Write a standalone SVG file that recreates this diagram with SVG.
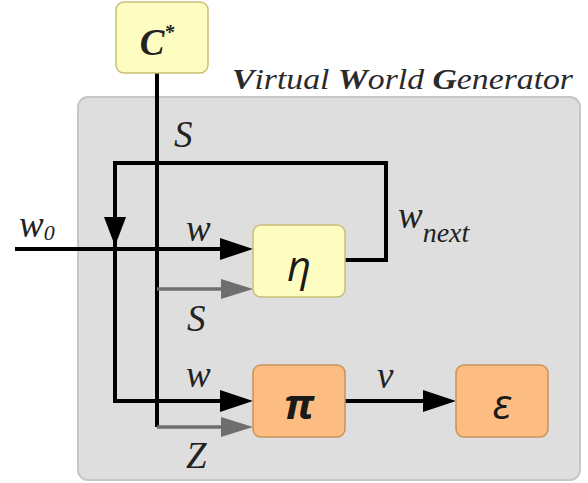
<svg xmlns="http://www.w3.org/2000/svg" width="588" height="483" viewBox="0 0 588 483">
<defs>
<style>
.lbl{font-family:'Liberation Serif','DejaVu Serif',serif;font-style:italic;font-size:37px;fill:#222}
.sym{font-family:'Open Sans','DejaVu Sans',sans-serif;font-style:italic;font-size:42px;fill:#1a1a1a;text-anchor:middle}
.yel{fill:#fdfdc2;stroke:#c9bd7a;stroke-width:1.5}
.org{fill:#fdbd82;stroke:#c8935a;stroke-width:1.5}
.blk{fill:none;stroke:#000;stroke-width:4}
.gry{fill:none;stroke:#6e6e6e;stroke-width:3.5}
.ttl{font-family:'Liberation Serif','DejaVu Serif',serif;font-style:italic;font-size:30px;fill:#2a2a2a}
</style>
</defs>
<rect width="588" height="483" fill="#fff"/>
<g id="container">
<rect x="78" y="97" width="502" height="383" rx="10" fill="#dedede" stroke="#c6c6c6" stroke-width="2"/>
<text class="ttl" x="232" y="89" textLength="341" lengthAdjust="spacingAndGlyphs"><tspan font-weight="bold">V</tspan>irtual <tspan font-weight="bold">W</tspan>orld <tspan font-weight="bold">G</tspan>enerator</text>
</g>
<g id="connectors">
<path class="blk" d="M157 73 V427"/>
<path class="gry" d="M157 289 H225"/>
<polygon points="253,289 221,279 221,299" fill="#6e6e6e"/>
<path class="gry" d="M157 427 H225"/>
<polygon points="253,427 221,417 221,437" fill="#6e6e6e"/>
<path class="blk" d="M15 249 H225"/>
<polygon points="253,249 220,238 220,260" fill="#000"/>
<path class="blk" d="M345 260 H386 V163 H115 V401 H225"/>
<polygon points="115,246 104,217 126,217" fill="#000"/>
<polygon points="253,401 220,390 220,412" fill="#000"/>
<path class="blk" d="M345 401 H428"/>
<polygon points="456,401 423,390 423,412" fill="#000"/>
</g>
<g id="C_star">
<rect class="yel" x="116" y="2" width="92" height="71" rx="8"/>
<text class="lbl" x="157" y="55" font-weight="bold" fill="#1a1a1a" text-anchor="middle">C<tspan font-size="20" dy="-16">*</tspan></text>
</g>
<g id="eta">
<rect class="yel" x="253" y="225" width="92" height="72" rx="8"/>
<text class="sym" x="299" y="281">η</text>
</g>
<g id="pi">
<rect class="org" x="253" y="365" width="92" height="72" rx="8"/>
<text class="sym" x="299" y="419" font-weight="bold">π</text>
</g>
<g id="epsilon">
<rect class="org" x="456" y="365" width="92" height="72" rx="8"/>
<text class="sym" x="502" y="419">ε</text>
</g>
<g id="labels">
<text class="lbl" x="174" y="147">S</text>
<text class="lbl" x="19" y="237">w<tspan font-size="22" dy="3">0</tspan></text>
<text class="lbl" x="186" y="241">w</text>
<text class="lbl" x="398" y="228">w<tspan font-size="28" dy="14">next</tspan></text>
<text class="lbl" x="187" y="331">S</text>
<text class="lbl" x="186" y="387">w</text>
<text class="lbl" x="186" y="468">Z</text>
<text class="lbl" x="377" y="388">v</text>
</g>
</svg>
